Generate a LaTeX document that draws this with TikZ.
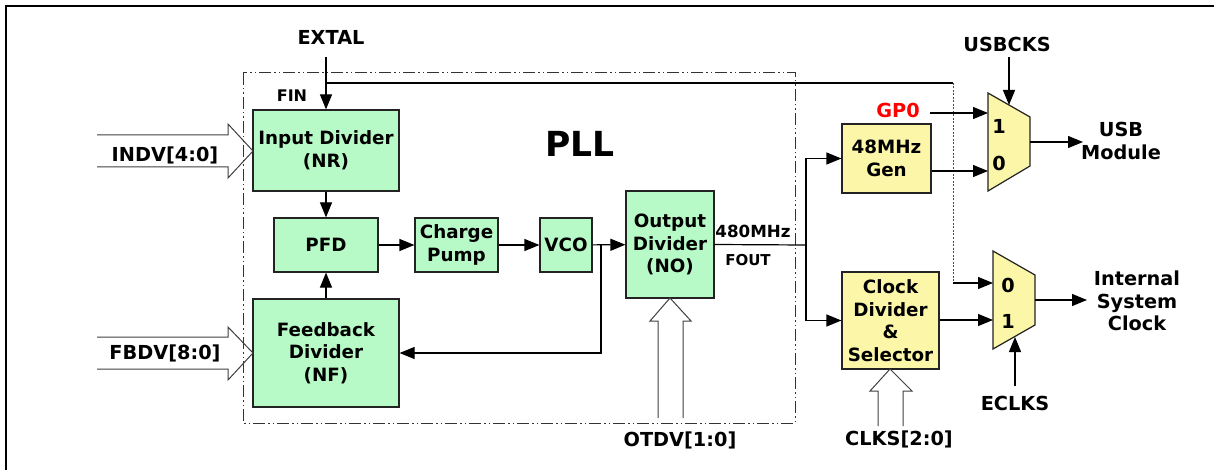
\documentclass[tikz,border=0pt]{standalone}
\usepackage{fontspec}
\setmainfont{DejaVu Sans}
\usetikzlibrary{arrows.meta}
\definecolor{pllgreen}{RGB}{184,250,199}
\definecolor{boxyellow}{RGB}{251,246,168}
\definecolor{lineg}{RGB}{35,35,35}
\begin{document}
\begin{tikzpicture}[x=1pt,y=-1pt,
  blk/.style={draw=lineg, line width=1.2pt, fill=pllgreen, align=center, inner sep=0pt,
    font=\bfseries\fontsize{18.3}{22.5}\selectfont},
  yblk/.style={blk, fill=boxyellow},
  lbl/.style={font=\bfseries\fontsize{19.3}{22.5}\selectfont, align=center, inner sep=0pt},
  sm/.style={font=\bfseries\fontsize{15}{17}\selectfont, inner sep=0pt},
  arr/.style={draw=black, line width=1.2pt, -{Triangle[length=15pt,width=12pt]}},
  wire/.style={draw=black, line width=1.2pt},
  hollow/.style={draw=black!75, line width=1pt},
  dashdotdot/.style={draw=black!80, line width=1pt, dash pattern=on 12pt off 3pt on 1.5pt off 3pt on 1.5pt off 3pt},
  dotline/.style={draw=black!70, line width=1pt, dash pattern=on 2pt off 1.5pt},
  muxshape/.style={draw=lineg, line width=1.2pt, fill=boxyellow},
]
\useasboundingbox (0,0) rectangle (1214,470);
\fill[white] (0,0) rectangle (1214,470);
% outer frame
\draw[line width=2pt] (1214,6) -- (6,6) -- (6,471);

% PLL boundary
\draw[dashdotdot] (243,73) rectangle (795,423);
\node[lbl, font=\bfseries\fontsize{34.5}{38}\selectfont] (pll) at (580,144) {PLL};

% blocks
\node[blk, minimum width=146, minimum height=81] (ind) at (326,150.5) {Input Divider\\(NR)};
\node[blk, minimum width=104, minimum height=54] (pfd) at (326,245) {PFD};
\node[blk, minimum width=83, minimum height=54] (cp) at (456.5,245) {Charge\\Pump};
\node[blk, minimum width=52, minimum height=54] (vco) at (566,245) {VCO};
\node[blk, minimum width=88, minimum height=107] (od) at (670,244.5) {Output\\Divider\\(NO)};
\node[blk, minimum width=146, minimum height=108] (fbd) at (326,353) {Feedback\\Divider\\(NF)};
\node[yblk, minimum width=89, minimum height=69] (gen) at (886.5,158.5) {48MHz\\Gen};
\node[yblk, minimum width=97, minimum height=97] (cds) at (890.5,320.5) {Clock\\Divider\\\&\\Selector};

% muxes
\coordinate (m1a) at (988,93);
\coordinate (m1b) at (1030,117);
\coordinate (m1c) at (1030,166);
\coordinate (m1d) at (988,191);
\draw[muxshape] (m1a) -- (m1b) -- (m1c) -- (m1d) -- cycle;
\coordinate (m1in1) at (988,113);
\coordinate (m1in0) at (988,171);
\coordinate (m1out) at (1030,142);
\coordinate (m1sel) at (1009,105);
\node[lbl] (m1one) at (999,126) {1};
\node[lbl] (m1zero) at (999,163) {0};

\coordinate (m2a) at (993,251);
\coordinate (m2b) at (1035,275);
\coordinate (m2c) at (1035,325);
\coordinate (m2d) at (993,349);
\draw[muxshape] (m2a) -- (m2b) -- (m2c) -- (m2d) -- cycle;
\coordinate (m2in0) at (993,283);
\coordinate (m2in1) at (993,320);
\coordinate (m2out) at (1035,300);
\coordinate (m2sel) at (1015,337);
\node[lbl] (m2zero) at (1008,285) {0};
\node[lbl] (m2one) at (1008,321) {1};

% labels
\node[lbl] (extal) at (331,37) {EXTAL};
\node[sm, font=\bfseries\fontsize{16}{18}\selectfont] (fin) at (292,96) {FIN};
\node[lbl] (indv) at (165,155) {INDV[4:0]};
\node[lbl] (fbdv) at (165,353) {FBDV[8:0]};
\node[lbl] (otdv) at (680,440) {OTDV[1:0]};
\node[lbl] (clks) at (899,439) {CLKS[2:0]};
\node[lbl, font=\bfseries\fontsize{16.7}{18}\selectfont] (mhz) at (753,231) {480MHz};
\node[sm] (fout) at (748,260) {FOUT};
\node[lbl, text=red] (gp0) at (898,110) {GP0};
\node[lbl] (usbcks) at (1007,44) {USBCKS};
\node[lbl] (usb) at (1121,141) {USB\\Module};
\node[lbl] (eclks) at (1015,403) {ECLKS};
\node[lbl] (isc) at (1137,301) {Internal\\System\\Clock};

% connectors
\coordinate (extalS) at (326,57);
\draw[arr] (extalS) -- (ind.north);
\coordinate (br0) at (326,83);
\coordinate (br1) at (953,83);
\coordinate (br2) at (953,283);
\draw[wire] (br0) -- (br1);
\draw[dotline] (br1) -- (br2);
\draw[arr] (br2) -- (m2in0);

\draw[arr] (ind) -- (pfd);
\draw[arr] (fbd) -- (pfd);
\draw[arr] (pfd) -- (cp);
\draw[arr] (cp) -- (vco);
\draw[arr] (vco) -- (od);
\coordinate (fbtap) at (601,245);
\draw[arr] (fbtap) |- (fbd.east);

\coordinate (fo) at (806,245);
\draw[wire] (od.east) -- (fo);
\draw[arr] (fo) |- (gen.west);
\draw[arr] (fo) |- (cds.west);

\coordinate (gpS) at (930,113);
\draw[arr] (gpS) -- (m1in1);
\draw[arr] (gen.east |- m1in0) -- (m1in0);
\coordinate (usbW) at (1083,142);
\draw[arr] (m1out) -- (usbW);
\coordinate (usbcksS) at (1009,57);
\draw[arr] (usbcksS) -- (m1sel);

\draw[arr] (cds.east |- m2in1) -- (m2in1);
\coordinate (iscW) at (1087,300);
\draw[arr] (m2out) -- (iscW);
\coordinate (eclksN) at (1015,386);
\draw[arr] (eclksN) -- (m2sel);

% hollow bus arrows
\draw[hollow] (97,135) -- (228,135) -- (228,124) -- (253,151) -- (228,178) -- (228,167) -- (97,167);
\draw[hollow] (97,337) -- (228,337) -- (228,327) -- (253,353) -- (228,380) -- (228,369) -- (97,369);
\draw[hollow] (658,418) -- (658,321) -- (650,321) -- (670,298) -- (691,321) -- (683,321) -- (683,418);
\draw[hollow] (878,426) -- (878,391) -- (870,391) -- (890,369) -- (912,391) -- (903,391) -- (903,426);
\end{tikzpicture}
\end{document}
